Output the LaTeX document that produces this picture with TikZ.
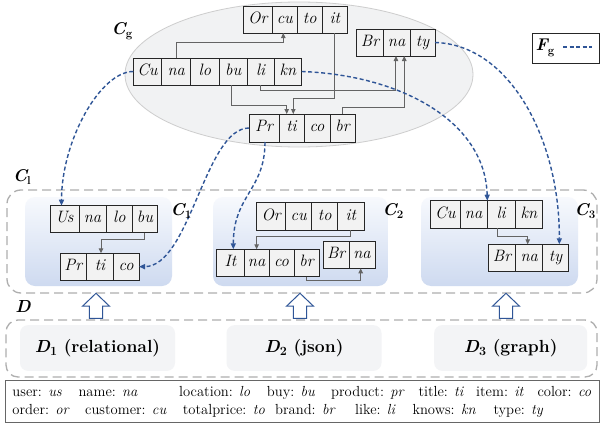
\documentclass[tikz,border=0pt]{standalone}
\usetikzlibrary{arrows.meta,calc}
\definecolor{fgblue}{RGB}{47,85,151}
\definecolor{gconn}{RGB}{100,100,100}
\definecolor{dashgray}{RGB}{175,175,175}
\definecolor{ellfill}{RGB}{241,242,243}
\definecolor{elldraw}{RGB}{205,205,205}
\definecolor{ctop}{RGB}{247,249,253}
\definecolor{cbot}{RGB}{206,218,240}
\definecolor{dfill}{RGB}{243,244,246}
\newcommand\cellfont{\fontsize{16.5}{18}\selectfont\itshape}
\newcommand\legfont{\fontsize{14.6}{17}\selectfont}
\newcommand\clab[2]{{\fontsize{17}{20}\selectfont\bfseries\itshape #1\raisebox{-0.45ex}{\fontsize{11.5}{12}\selectfont\upshape #2}}}
\newcommand\dlab[3]{{\fontsize{17.5}{20}\selectfont\bfseries{\itshape #1}\raisebox{-0.4ex}{\fontsize{12.5}{13}\selectfont #2} #3}}
\newcommand\cell[6]{\node[cellbox, minimum width={#3pt-#2pt}, minimum height={#5pt-#4pt}] (#1) at ({(#2+#3)/2},{(#4+#5)/2}) {#6};}
\begin{document}
\begin{tikzpicture}[x=1pt,y=-1pt,
  cellbox/.style={draw=black!85, line width=0.9pt, fill=black!5, inner sep=0pt, outer sep=0pt, font=\cellfont, text height=11pt, text depth=3.5pt},
  gc/.style={draw=gconn, line width=1pt, -{Triangle[length=5pt,width=4.5pt]}},
  fg/.style={draw=fgblue, line width=1.4pt, dash pattern=on 4pt off 2.5pt, -{Triangle[length=6pt,width=5pt]}},
  cbox/.style={rectangle, rounded corners=10pt, top color=ctop, bottom color=cbot, draw=none, minimum height=89pt, inner sep=0pt},
  dashbox/.style={rectangle, draw=dashgray, line width=1.3pt, dash pattern=on 9pt off 5pt, inner sep=0pt},
  dbox/.style={rectangle, rounded corners=8pt, fill=dfill, minimum width=155pt, minimum height=45.7pt, inner sep=0pt},
  hollow/.style={draw=fgblue, line width=1pt, fill=white, line join=miter},
  leg/.style={anchor=base west, inner sep=0pt, font=\legfont},
  lab/.style={inner sep=0pt}]
\useasboundingbox (0,0) rectangle (600,423);
\fill[white] (0,0) rectangle (600,423);
% global schema ellipse
\draw[fill=ellfill, draw=elldraw, line width=0.8pt] (299,74.5) ellipse [x radius=174, y radius=72.5];
% local cluster frame
\node[dashbox, rounded corners=14pt, minimum width=590pt, minimum height=103pt] (cl) at (302,241.5) {};
\node[cbox, minimum width=147pt] (c1) at (98.5,241.5) {};
\node[cbox, minimum width=175pt] (c2) at (300.5,241.5) {};
\node[cbox, minimum width=157pt] (c3) at (499.5,241.5) {};
% D frame
\node[dashbox, rounded corners=12pt, minimum width=591pt, minimum height=57pt] (dd) at (301.5,348.5) {};
\node[dbox] (d1) at (97.5,348) {\dlab{D}{1}{(relational)}};
\node[dbox] (d2) at (304,348) {\dlab{D}{2}{(json)}};
\node[dbox, minimum width=153pt] (d3) at (510.7,348) {\dlab{D}{3}{(graph)}};
% hollow arrows
\foreach \x in {96,300,506}{
  \draw[hollow] (\x-6.7,318.3) -- (\x-6.7,306) -- (\x-13.3,306) -- (\x,293.3) -- (\x+13.3,306) -- (\x+6.7,306) -- (\x+6.7,318.3) -- cycle;
}
% Cg tables
\cell{cgor1}{243.3}{272.3}{6}{33}{Or}
\cell{cgor2}{272.3}{297.3}{6}{33}{cu}
\cell{cgor3}{297.3}{322.3}{6}{33}{to}
\cell{cgor4}{322.3}{347.3}{6}{33}{it}
\cell{cgbr1}{356.7}{383.3}{29}{56}{Br}
\cell{cgbr2}{383.3}{410}{29}{56}{na}
\cell{cgbr3}{410}{435}{29}{56}{ty}
\cell{cgcu1}{133.3}{161.7}{58}{85}{Cu}
\cell{cgcu2}{161.7}{190.7}{58}{85}{na}
\cell{cgcu3}{190.7}{219}{58}{85}{lo}
\cell{cgcu4}{219}{247.3}{58}{85}{bu}
\cell{cgcu5}{247.3}{274}{58}{85}{li}
\cell{cgcu6}{274}{301.7}{58}{85}{kn}
\cell{cgpr1}{249}{279}{114}{142}{Pr}
\cell{cgpr2}{279}{304}{114}{142}{ti}
\cell{cgpr3}{304}{330}{114}{142}{co}
\cell{cgpr4}{330}{355}{114}{142}{br}
% C1
\cell{c1us1}{50}{79}{205.7}{232.7}{Us}
\cell{c1us2}{79}{106}{205.7}{232.7}{na}
\cell{c1us3}{106}{132.7}{205.7}{232.7}{lo}
\cell{c1us4}{132.7}{157.3}{205.7}{232.7}{bu}
\cell{c1pr1}{60}{86.7}{253.3}{280}{Pr}
\cell{c1pr2}{86.7}{113.3}{253.3}{280}{ti}
\cell{c1pr3}{113.3}{139}{253.3}{280}{co}
% C2
\cell{c2or1}{256.7}{285.7}{202.7}{230}{Or}
\cell{c2or2}{285.7}{311.7}{202.7}{230}{cu}
\cell{c2or3}{311.7}{337.7}{202.7}{230}{to}
\cell{c2or4}{337.7}{364}{202.7}{230}{it}
\cell{c2it1}{216.7}{244.3}{249.3}{276.7}{It}
\cell{c2it2}{244.3}{269}{249.3}{276.7}{na}
\cell{c2it3}{269}{294}{249.3}{276.7}{co}
\cell{c2it4}{294}{319}{249.3}{276.7}{br}
\cell{c2br1}{323.3}{349}{241.7}{268.3}{Br}
\cell{c2br2}{349}{375}{241.7}{268.3}{na}
% C3
\cell{c3cu1}{430.7}{460}{200.7}{228.3}{Cu}
\cell{c3cu2}{460}{487.3}{200.7}{228.3}{na}
\cell{c3cu3}{487.3}{515}{200.7}{228.3}{li}
\cell{c3cu4}{515}{542.7}{200.7}{228.3}{kn}
\cell{c3br1}{488.3}{515.7}{244.3}{271}{Br}
\cell{c3br2}{515.7}{542.7}{244.3}{271}{na}
\cell{c3br3}{542.7}{568.3}{244.3}{271}{ty}
% gray connectors in Cg
\draw[gc] (cgcu2.north) |- ($(cgor2.south)+(-1.5,9.7)$) -- ($(cgor2.south)+(-1.5,0)$);
\draw[gc] (cgor4.south) |- ($(cgpr2.north)+(1.8,-15.7)$) -- ($(cgpr2.north)+(1.8,0)$);
\draw[gc] ($(cgcu4.south)+(-2,0)$) |- ($(cgpr2.north)+(-4.8,-9)$) -- ($(cgpr2.north)+(-4.8,0)$);
\draw[gc] (cgcu5.south) |- ($(cgbr2.south)+(-0.7,34.7)$) -- ($(cgbr2.south)+(-0.7,0)$);
\draw[gc] (cgpr4.north) |- ($(cgbr2.south)+(7.6,51.3)$) -- ($(cgbr2.south)+(7.6,0)$);
% gray connectors in clusters
\draw[gc] ($(c1us4.south)+(-1,0)$) |- ($(c1pr2.north)+(1,-14.3)$) -- ($(c1pr2.north)+(1,0)$);
\draw[gc] (c2or4.south) |- ($(c2it2.north)+(0,-13.3)$) -- (c2it2.north);
\draw[gc] (c2it4.south) |- ($(c2br2.south)+(-1.3,12.4)$) -- ($(c2br2.south)+(-1.3,0)$);
\draw[gc] ($(c3cu3.south)+(-3.8,0)$) |- ($(c3br2.north)+(-1.5,-8.3)$) -- ($(c3br2.north)+(-1.5,0)$);
% blue dashed mappings F_g
\draw[fg] (cgcu1.west) .. controls +(-33,0) and +(0,-65) .. ($(c1us1.north)+(-3,0)$);
\draw[fg] (cgcu6.east) .. controls +(98,3.5) and +(-2,-80) .. (c3cu3.north west);
\draw[fg] (cgbr3.east) .. controls +(75,2) and +(0.7,-104) .. ($(c3br3.north)+(3.8,0)$);
\draw[fg] (cgpr1.west) .. controls +(-44,0) and +(51,0) .. (c1pr3.east);
\draw[fg] ($(cgpr1.south)+(1,0)$) .. controls +(0,48) and +(0,-54) .. ($(c2it1.north)+(2.8,0)$);
% labels
\node[lab] (lcg) at (122,31) {\clab{C}{g}};
\node[lab] (lcl) at (22,177) {\clab{C}{l}};
\node[lab] (lc1) at (181,211) {\clab{C}{1}};
\node[lab] (lc2) at (393,211) {\clab{C}{2}};
\node[lab] (lc3) at (585,211) {\clab{C}{3}};
\node[lab] (ld) at (23,306) {{\fontsize{17.5}{20}\selectfont\bfseries\itshape D}};
% F_g legend
\node[draw=black!85, line width=1pt, minimum width=67pt, minimum height=30pt, inner sep=0pt] (fgbox) at (565.5,48) {};
\node[lab] (fgl) at (545,48) {\clab{F}{g}};
\coordinate (fga) at (563,47);
\coordinate (fgb) at (592,47);
\draw[draw=fgblue, line width=1.4pt, dash pattern=on 4pt off 2.5pt] (fga) -- (fgb);
% abbreviation legend
\node[draw=black!60, line width=0.9pt, minimum width=594pt, minimum height=42pt, inner sep=0pt] (legend) at (302,401) {};
\node[leg] (a1) at (12.3,396.5) {user: \textit{us}};
\node[leg] (a2) at (78.3,396.5) {name: \textit{na}};
\node[leg] (a3) at (179,396.5) {location: \textit{lo}};
\node[leg] (a4) at (266.7,396.5) {buy: \textit{bu}};
\node[leg] (a5) at (331,396.5) {product: \textit{pr}};
\node[leg] (a6) at (418.3,396.5) {title: \textit{ti}};
\node[leg] (a7) at (476,396.5) {item: \textit{it}};
\node[leg] (a8) at (537.3,396.5) {color: \textit{co}};
\node[leg] (b1) at (12.3,414.5) {order: \textit{or}};
\node[leg] (b2) at (85,414.5) {customer: \textit{cu}};
\node[leg] (b3) at (182.7,414.5) {totalprice: \textit{to}};
\node[leg] (b4) at (275,414.5) {brand: \textit{br}};
\node[leg] (b5) at (355,414.5) {like: \textit{li}};
\node[leg] (b6) at (412.3,414.5) {knows: \textit{kn}};
\node[leg] (b7) at (493.3,414.5) {type: \textit{ty}};
\end{tikzpicture}
\end{document}
